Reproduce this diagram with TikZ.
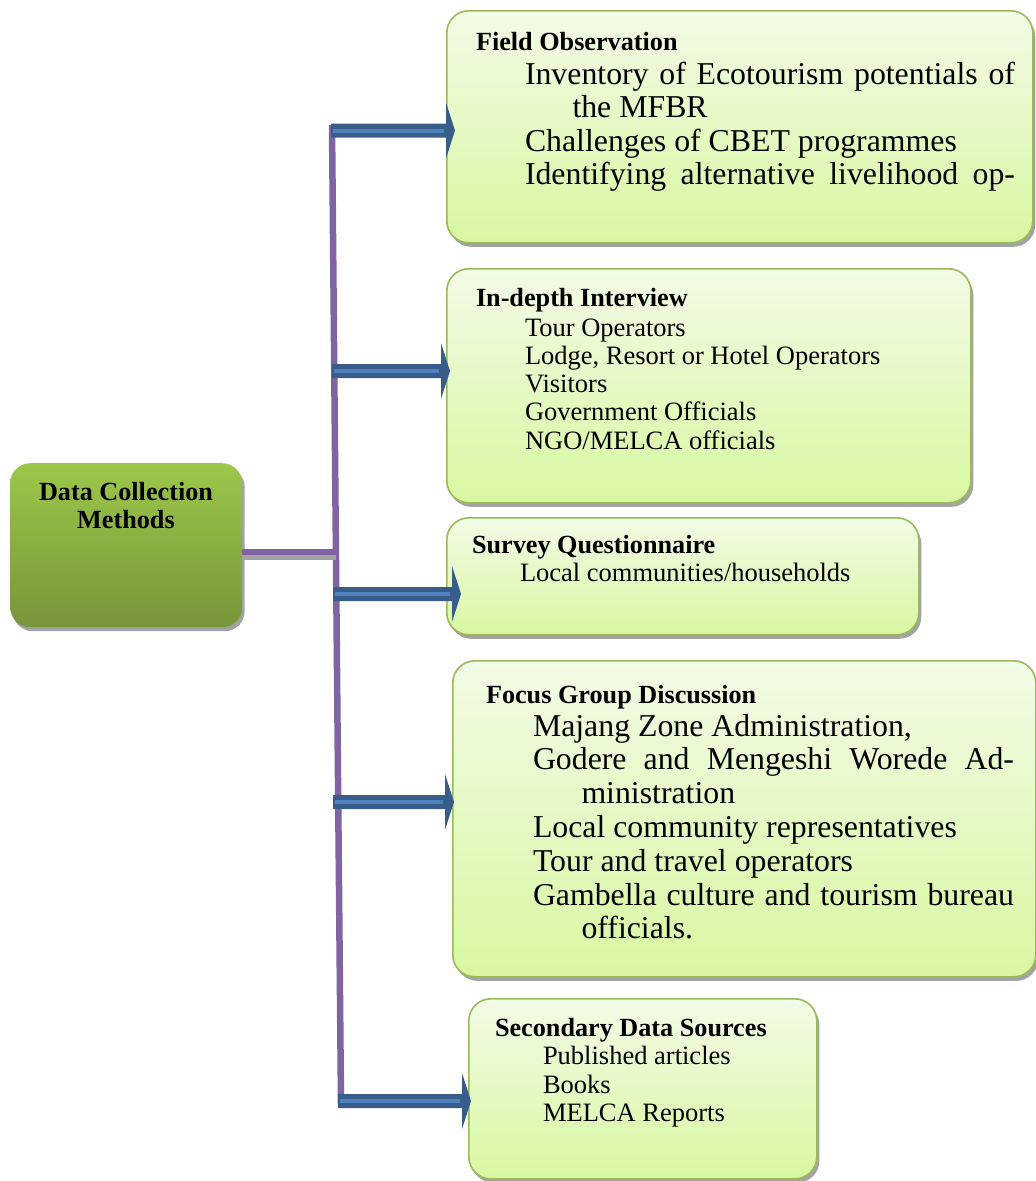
\documentclass[tikz,border=0pt]{standalone}
\usepackage{fontspec}
\setmainfont{Liberation Serif}
\usetikzlibrary{calc,shadows}

\definecolor{boxtop}{HTML}{F2FBE6}
\definecolor{boxbot}{HTML}{D8F7A1}
\definecolor{boxedge}{HTML}{9BBB59}
\definecolor{maintop}{HTML}{9CC74A}
\definecolor{mainbot}{HTML}{76953A}
\definecolor{purp}{HTML}{8064A2}
\definecolor{adark}{HTML}{385D8A}
\definecolor{alight}{HTML}{4F81BD}
\definecolor{shad}{HTML}{A3A3A3}

\newcommand\tsz{\bfseries\fontsize{26.2}{28}\selectfont}
\newcommand\isz{\fontsize{26.5}{28}\selectfont}
\newcommand\ibz{\fontsize{31.8}{34}\selectfont}

\newcommand\barrow[2]{%
  \fill[adark] ($(#1)+(0,-7)$) -- ($(#2)+(-9,-7)$) -- ($(#2)+(-9,-28)$) -- (#2)
     -- ($(#2)+(-9,28)$) -- ($(#2)+(-9,7)$) -- ($(#1)+(0,7)$) -- cycle;
  \draw[alight, line width=4pt] ($(#1)+(2,0)$) -- ($(#2)+(-11,0)$);
}

\begin{document}
\begin{tikzpicture}[x=1pt,y=-1pt,
  box/.style={draw=boxedge, line width=1.6pt, rounded corners=22pt,
    top color=boxtop, bottom color=boxbot, anchor=north west, inner sep=0pt,
    drop shadow={shadow xshift=2.5pt, shadow yshift=-4pt, fill=shad, opacity=1}},
  mainbox/.style={draw=none, rounded corners=20pt,
    top color=maintop, bottom color=mainbot, anchor=north west, inner sep=0pt,
    drop shadow={shadow xshift=2.5pt, shadow yshift=-4pt, fill=shad, opacity=1}},
  txt/.style={anchor=base west, inner sep=0pt, outer sep=0pt},
  ctxt/.style={anchor=base, inner sep=0pt, outer sep=0pt},
  purpline/.style={draw=purp, line width=6.5pt},
  shadline/.style={draw=shad, line width=5pt}
]
\useasboundingbox (0,0) rectangle (1036,1181);

% boxes
\node[box, minimum width=586pt, minimum height=232pt] (fo) at (446,10) {};
\node[box, minimum width=524pt, minimum height=234pt] (idi) at (446,268) {};
\node[box, minimum width=472pt, minimum height=117pt] (sq) at (446,517) {};
\node[box, minimum width=583pt, minimum height=316pt] (fgd) at (452,660) {};
\node[box, minimum width=348pt, minimum height=180pt] (sds) at (468,998) {};
\node[mainbox, minimum width=232pt, minimum height=164pt] (dcm) at (10,463) {};

% main box text
\node[ctxt] (dcm1) at (126,500) {\tsz Data Collection};
\node[ctxt] (dcm2) at (126,528) {\tsz Methods};

% purple connectors
\coordinate (vtop) at (332,125);
\coordinate (vbot) at (341,1104);
\coordinate (jn) at (336,552);
\draw[purpline] (vtop) -- (vbot);
\draw[shadline] ($(dcm.east |- jn)+(0,5)$) -- ($(jn)+(0,5)$);
\draw[purpline] (dcm.east |- jn) -- (jn);

% blue arrows
\coordinate (s1) at (331,130.5); \coordinate (t1) at (455,130.5);
\coordinate (s2) at (332,371);   \coordinate (t2) at (450,371);
\coordinate (s3) at (333,594);   \coordinate (t3) at (461,594);
\coordinate (s4) at (333,802);   \coordinate (t4) at (454,802);
\coordinate (s5) at (338,1101);  \coordinate (t5) at (471,1101);
\barrow{s1}{t1}
\barrow{s2}{t2}
\barrow{s3}{t3}
\barrow{s4}{t4}
\barrow{s5}{t5}

% Field Observation
\node[txt] (fo0) at (476,50.7) {\tsz Field Observation};
\node[txt] (fo1) at (525,84) {\ibz\makebox[490pt][s]{Inventory of Ecotourism potentials of}};
\node[txt] (fo2) at (572.5,117.6) {\ibz the MFBR};
\node[txt] (fo3) at (525,151.2) {\ibz Challenges of CBET programmes};
\node[txt] (fo4) at (525,184.8) {\ibz\makebox[490pt][s]{Identifying alternative livelihood op-}};

% In-depth Interview
\node[txt] (id0) at (476,306.7) {\tsz In-depth Interview};
\node[txt] (id1) at (525,336) {\isz Tour Operators};
\node[txt] (id2) at (525,364.3) {\isz Lodge, Resort or Hotel Operators};
\node[txt] (id3) at (525,392.6) {\isz Visitors};
\node[txt] (id4) at (525,420.9) {\isz Government Officials};
\node[txt] (id5) at (525,449.2) {\isz NGO/MELCA officials};

% Survey Questionnaire
\node[txt] (sq0) at (472,553.3) {\tsz Survey Questionnaire};
\node[txt] (sq1) at (520,581.5) {\isz Local communities/households};

% Focus Group Discussion
\node[txt] (fg0) at (486,703.3) {\tsz Focus Group Discussion};
\node[txt] (fg1) at (533,736) {\ibz Majang Zone Administration,};
\node[txt] (fg2) at (533,769.8) {\ibz\makebox[481pt][s]{Godere and Mengeshi Worede Ad-}};
\node[txt] (fg3) at (581.5,803.6) {\ibz ministration};
\node[txt] (fg4) at (533,837.4) {\ibz Local community representatives};
\node[txt] (fg5) at (533,871.2) {\ibz Tour and travel operators};
\node[txt] (fg6) at (533,905) {\ibz\makebox[481pt][s]{Gambella culture and tourism bureau}};
\node[txt] (fg7) at (581.5,938.8) {\ibz officials.};

% Secondary Data Sources
\node[txt] (sd0) at (495,1036) {\tsz Secondary Data Sources};
\node[txt] (sd1) at (543,1064.8) {\isz Published articles};
\node[txt] (sd2) at (543,1093.1) {\isz Books};
\node[txt] (sd3) at (543,1121.4) {\isz MELCA Reports};
\end{tikzpicture}
\end{document}
